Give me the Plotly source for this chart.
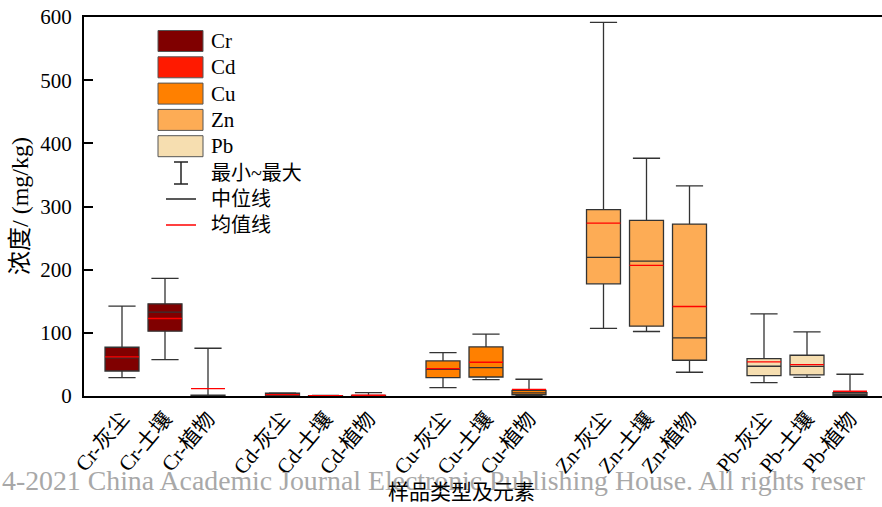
import plotly.graph_objects as go

# Sample types within each element group and the elements themselves
sample_types = ["灰尘", "土壤", "植物"]
elements = ["Cr", "Cd", "Cu", "Zn", "Pb"]

# Box statistics (mg/kg), ordered as sample_types
cr_min = [29.2, 57.7, 0.3]
cr_q1 = [39.6, 102.6, 0.6]
cr_median = [60.5, 132.7, 1.0]
cr_q3 = [77.2, 145.9, 1.5]
cr_max = [142.2, 186.1, 75.6]
cr_mean = [61.8, 122.7, 11.7]

cd_min = [0.4, 0.1, 0.2]
cd_q1 = [0.9, 0.2, 0.4]
cd_median = [1.8, 0.3, 0.6]
cd_q3 = [4.5, 0.5, 1.0]
cd_max = [5.0, 0.8, 5.4]
cd_mean = [2.2, 0.4, 1.2]

cu_min = [13.3, 26.0, 1.0]
cu_q1 = [29.2, 30.1, 2.0]
cu_median = [42.0, 45.0, 5.0]
cu_q3 = [55.5, 77.7, 9.0]
cu_max = [68.8, 97.8, 26.5]
cu_mean = [43.4, 53.4, 10.6]

zn_min = [106.9, 102.1, 37.6]
zn_q1 = [177.6, 110.5, 56.6]
zn_median = [219.4, 213.6, 92.0]
zn_q3 = [294.9, 278.1, 272.2]
zn_max = [591.4, 376.4, 332.5]
zn_mean = [273.8, 206.8, 141.7]

pb_min = [21.2, 29.6, 0.5]
pb_q1 = [32.3, 33.3, 1.0]
pb_median = [47.1, 47.0, 3.0]
pb_q3 = [59.3, 64.5, 5.5]
pb_max = [130.0, 101.5, 34.4]
pb_mean = [53.9, 49.8, 7.5]

y_ticks = [0, 100, 200, 300, 400, 500, 600]

stats = {
    "Cr": (cr_min, cr_q1, cr_median, cr_q3, cr_max, cr_mean),
    "Cd": (cd_min, cd_q1, cd_median, cd_q3, cd_max, cd_mean),
    "Cu": (cu_min, cu_q1, cu_median, cu_q3, cu_max, cu_mean),
    "Zn": (zn_min, zn_q1, zn_median, zn_q3, zn_max, zn_mean),
    "Pb": (pb_min, pb_q1, pb_median, pb_q3, pb_max, pb_mean),
}

colors = {
    "Cr": "#800000",
    "Cd": "#FF1A00",
    "Cu": "#FF8000",
    "Zn": "#FDAC55",
    "Pb": "#F6DEB0",
}

# Layout constants
GROUP_STEP = 160.5 / 43.0   # distance between element groups, in slot units
BOX_W = 0.79
LINE_C = "#333333"
MEAN_C = "#FF0000"
FONT = "'Liberation Serif', 'Noto Sans CJK SC', serif"

W, H = 882, 507
ML, MR, MT, MB = 84, 0, 17, 111
PW, PH = W - ML - MR, H - MT - MB


def px_x(x):
    return (x - ML) / PW


def px_y(y):
    return (H - MB - y) / PH


fig = go.Figure()

tick_vals, tick_text = [], []
mean_x, mean_y = [], []
for g, el in enumerate(elements):
    mn, q1, med, q3, mx, mean = stats[el]
    xs = [g * GROUP_STEP + k for k in range(len(sample_types))]
    tick_vals += xs
    tick_text += [f"{el}-{s}" for s in sample_types]
    fig.add_trace(go.Box(
        x=xs, q1=q1, median=med, q3=q3, lowerfence=mn, upperfence=mx,
        width=BOX_W, whiskerwidth=0.8,
        fillcolor=colors[el], line=dict(color=LINE_C, width=1.3),
        name=el, showlegend=False, hoverinfo="skip",
    ))
    for x, m in zip(xs, mean):
        mean_x += [x - BOX_W / 2, x + BOX_W / 2, None]
        mean_y += [m, m, None]

fig.add_trace(go.Scatter(
    x=mean_x, y=mean_y, mode="lines",
    line=dict(color=MEAN_C, width=1.3),
    showlegend=False, hoverinfo="skip",
))

# Hand-drawn legend: colour swatches, whisker glyph, median and mean lines
shapes = []
annotations = []
sw_x0, sw_x1 = 158, 203
for i, el in enumerate(elements):
    y0 = 30.5 + i * 26.3
    y1 = y0 + 21
    shapes.append(dict(type="rect", xref="paper", yref="paper",
                       x0=px_x(sw_x0), x1=px_x(sw_x1), y0=px_y(y1), y1=px_y(y0),
                       fillcolor=colors[el], line=dict(color="#555555", width=1)))
    annotations.append(dict(xref="paper", yref="paper", x=px_x(209), y=px_y((y0 + y1) / 2),
                            text=el, showarrow=False, xanchor="left", yanchor="middle",
                            font=dict(family=FONT, size=21, color="black")))

# whisker glyph
wx = 181
for (xa, ya, xb, yb) in [(wx, 162, wx, 184), (174, 162, 188, 162), (174, 184, 188, 184)]:
    shapes.append(dict(type="line", xref="paper", yref="paper",
                       x0=px_x(xa), y0=px_y(ya), x1=px_x(xb), y1=px_y(yb),
                       line=dict(color="#222222", width=1.5)))
annotations.append(dict(xref="paper", yref="paper", x=px_x(209), y=px_y(173),
                        text="最小~最大", showarrow=False, xanchor="left", yanchor="middle",
                        font=dict(family=FONT, size=20, color="black")))
for yy, col, txt in [(199, "#222222", "中位线"), (225, MEAN_C, "均值线")]:
    shapes.append(dict(type="line", xref="paper", yref="paper",
                       x0=px_x(166), y0=px_y(yy), x1=px_x(196), y1=px_y(yy),
                       line=dict(color=col, width=1.5)))
    annotations.append(dict(xref="paper", yref="paper", x=px_x(209), y=px_y(yy),
                            text=txt, showarrow=False, xanchor="left", yanchor="middle",
                            font=dict(family=FONT, size=20, color="black")))

# axis titles
annotations.append(dict(xref="paper", yref="paper", x=px_x(20), y=px_y(206),
                        text="浓度/ (mg/kg)", textangle=-90, showarrow=False,
                        xanchor="center", yanchor="middle",
                        font=dict(family=FONT, size=24, color="black")))

# journal watermark line
annotations.append(dict(xref="paper", yref="paper", x=px_x(0), y=px_y(480),
                        text="4-2021 China Academic Journal Electronic Publishing House. All rights reser",
                        showarrow=False, xanchor="left", yanchor="middle",
                        font=dict(family="'Liberation Serif', serif", size=27.8, color="#A8A8A8")))

annotations.append(dict(xref="paper", yref="paper", x=px_x(461), y=px_y(492),
                        text="样品类型及元素", showarrow=False,
                        xanchor="center", yanchor="middle",
                        font=dict(family=FONT, size=21, color="black")))

fig.update_layout(
    width=W, height=H,
    margin=dict(l=ML, r=MR, t=MT, b=MB, pad=0),
    paper_bgcolor="white", plot_bgcolor="white",
    boxmode="overlay",
    shapes=shapes, annotations=annotations,
    font=dict(family=FONT, color="black"),
    xaxis=dict(
        range=[-38 / 43, (PW - 38) / 43],
        tickmode="array", tickvals=tick_vals, ticktext=tick_text,
        tickangle=-50, ticks="", showgrid=False, zeroline=False,
        showline=True, linecolor="black", linewidth=2, mirror=True,
        tickfont=dict(family=FONT, size=21, color="black"),
    ),
    yaxis=dict(
        range=[0, 600], tickmode="array", tickvals=y_ticks,
        ticks="inside", ticklen=9, tickwidth=1.5, tickcolor="black",
        showgrid=False, zeroline=False,
        showline=True, linecolor="black", linewidth=2, mirror=False,
        ticklabelstandoff=6,
        tickfont=dict(family=FONT, size=21, color="black"),
    ),
)

fig.write_html("out.html")
